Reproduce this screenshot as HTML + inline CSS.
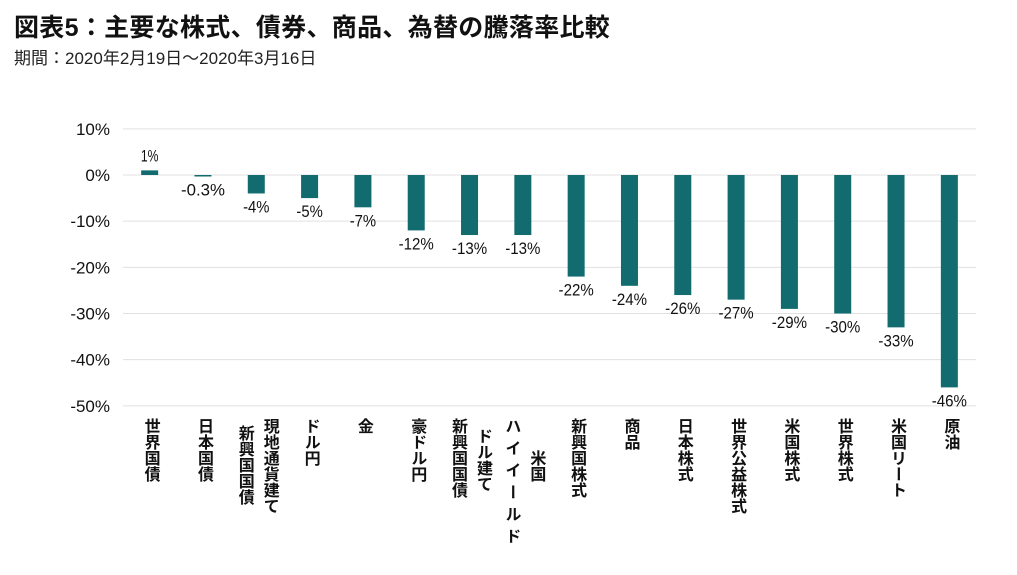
<!DOCTYPE html>
<html><head><meta charset="utf-8"><style>
body{margin:0;background:#fff;width:1017px;height:575px;overflow:hidden;font-family:"Liberation Sans","Noto Sans CJK JP",sans-serif;}
.t{position:absolute;left:14px;top:8px;font-size:25px;font-weight:bold;color:#111;letter-spacing:0.3px}
.s{position:absolute;left:14px;top:44px;font-size:17px;color:#222}
svg{position:absolute;left:0;top:0}
.v{writing-mode:vertical-rl;position:absolute;font-size:16px;font-weight:bold;color:#111;line-height:18px;transform:translateX(-50%)}
</style></head><body>
<div class="t">図表5：主要な株式、債券、商品、為替の騰落率比較</div>
<div class="s">期間：2020年2月19日～2020年3月16日</div>
<svg id="c" width="1017" height="575"></svg>
<div id="labels"></div>
<script>
const categories=["世界国債","日本国債","現地通貨建て新興国国債","ドル円","金","豪ドル円","ドル建て新興国国債","米国ハイイールド","新興国株式","商品","日本株式","世界公益株式","米国株式","世界株式","米国リート","原油"];
const values=[1,-0.3,-4,-5,-7,-12,-13,-13,-22,-24,-26,-27,-29,-30,-33,-46];
const valueLabels=["1%","-0.3%","-4%","-5%","-7%","-12%","-13%","-13%","-22%","-24%","-26%","-27%","-29%","-30%","-33%","-46%"];
const yTicks=[10,0,-10,-20,-30,-40,-50];
const labelColumns=[[["世界国債",0]],[["日本国債",0]],[["現地通貨建て",0],["新興国国債",7]],[["ドル円",0]],[["金",0]],[["豪ドル円",0]],[["ドル建て",10],["新興国国債",0]],[["米国",32],["ハイイールド",0,6]],[["新興国株式",0]],[["商品",0]],[["日本株式",0]],[["世界公益株式",0]],[["米国株式",0]],[["世界株式",0]],[["米国リート",0]],[["原油",0]]];
const NS="http://www.w3.org/2000/svg";
const svg=document.getElementById('c');
const x0=123,x1=976,band=(x1-x0)/categories.length;
const y=v=>175-v*4.617;
const xc=i=>x0+band*(i+0.5);
function mk(tag,attrs){const e=document.createElementNS(NS,tag);for(const k in attrs)e.setAttribute(k,attrs[k]);svg.appendChild(e);return e;}
yTicks.forEach(t=>{
 const g=mk('line',{x1:x0,x2:x1,y1:y(t),y2:y(t),stroke:'#e0e0e0','stroke-width':1});
 
 
 const l=mk('text',{x:110,y:y(t)+6,'text-anchor':'end','font-size':17,fill:'#111'});
 l.textContent=t+'%';
 
 
});
values.forEach((v,i)=>{
 const top=Math.min(y(v),y(0)),h=Math.max(Math.abs(y(v)-y(0)),1.5);
 const b=mk('rect',{x:xc(i)-8.5,y:top,width:17,height:h,fill:'#126b6e'});
 
 
 const ty=v>=0?y(v)-9:y(v)+19;
 const s=valueLabels[i];
 const t=mk('text',{x:xc(i),y:ty,'text-anchor':'middle','font-size':17,fill:'#111',textLength:s.length*8.8,lengthAdjust:'spacingAndGlyphs'});
 t.textContent=s;
 
 
});
const L=document.getElementById('labels');
labelColumns.forEach((cols,i)=>{
 const n=cols.length;
 cols.forEach((c,j)=>{
  const d=document.createElement('div');
  d.className='v';
  d.textContent=c[0];
  const off=n===1?0:(j===0?12.5:-12.5);
  d.style.left=(xc(i)+off)+'px';
  d.style.top=(418+c[1])+'px';
  if(c[2])d.style.letterSpacing=c[2]+'px';
  
  
  L.appendChild(d);
 });
});
</script>
</body></html>
